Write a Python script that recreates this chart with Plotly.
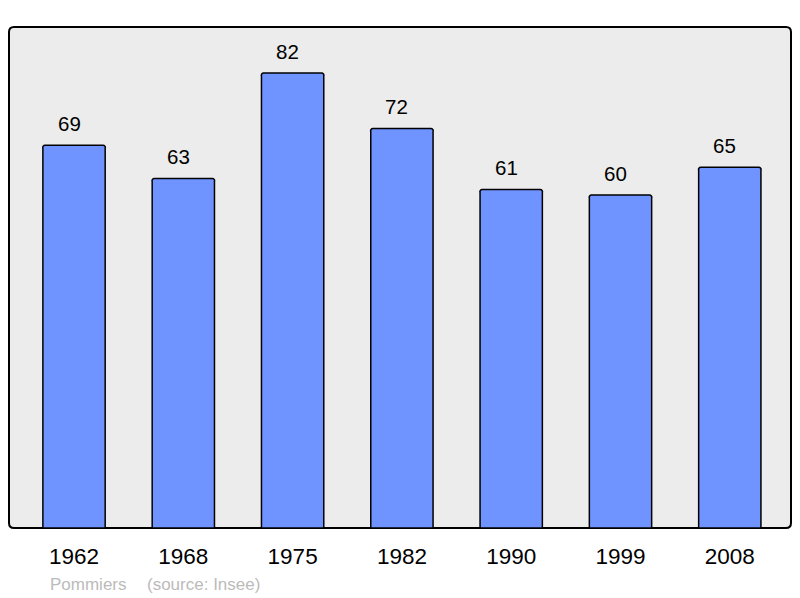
import plotly.graph_objects as go

years = ["1962", "1968", "1975", "1982", "1990", "1999", "2008"]
population = [69, 63, 82, 72, 61, 60, 65]
commune = "Pommiers"
source_note = "(source: Insee)"

W, H = 800, 598
L, R, T, B = 9, 9, 27, 70
pw, ph = W - L - R, H - T - B

xs = list(range(len(years)))

fig = go.Figure()
fig.add_trace(go.Bar(
    x=xs, y=population, width=0.57,
    marker=dict(color="#7094ff", line=dict(color="#000000", width=1.5), cornerradius=3),
    hoverinfo="skip",
))

for xi, v in zip(xs, population):
    fig.add_annotation(x=xi, y=v, text=str(v), showarrow=False, yanchor="middle",
                       yshift=22, xshift=-5,
                       font=dict(family="Liberation Sans, Arial", size=20.5, color="#000"))

rx, ry = 5 / pw, 5 / ph
path = (f"M {rx},0 L {1-rx},0 Q 1,0 1,{ry} L 1,{1-ry} Q 1,1 {1-rx},1 "
        f"L {rx},1 Q 0,1 0,{1-ry} L 0,{ry} Q 0,0 {rx},0 Z")
fig.add_shape(type="path", path=path, xref="paper", yref="paper",
              fillcolor="#ececec", line=dict(color="#000000", width=2), layer="below")

fy = (T + ph - 584.5) / ph
fig.add_annotation(x=(48 - L) / pw, y=fy, xref="paper", yref="paper",
                   text=commune, showarrow=False, xanchor="left", yanchor="middle",
                   font=dict(family="Liberation Sans, Arial", size=17, color="#bbbbbb"))
fig.add_annotation(x=(145 - L) / pw, y=fy, xref="paper", yref="paper",
                   text=source_note, showarrow=False, xanchor="left", yanchor="middle",
                   font=dict(family="Liberation Sans, Arial", size=17, color="#bbbbbb"))

fig.update_layout(
    width=W, height=H,
    margin=dict(l=L, r=R, t=T, b=B, pad=0),
    paper_bgcolor="#ffffff", plot_bgcolor="rgba(0,0,0,0)",
    showlegend=False,
    xaxis=dict(range=[-0.595, 6.56], tickmode="array", tickvals=xs, ticktext=years,
               showgrid=False, zeroline=False, showline=False,
               ticks="outside", ticklen=8, tickcolor="rgba(0,0,0,0)",
               tickfont=dict(family="Liberation Sans, Arial", size=22.5, color="#000")),
    yaxis=dict(range=[0, 90.3], showgrid=False, zeroline=False, showline=False,
               showticklabels=False, ticks=""),
    bargap=0,
)

fig.write_html("out.html", config={"displayModeBar": False, "staticPlot": True})
with open("out.html", encoding="utf-8") as f:
    html = f.read()
html = html.replace("<body>", '<body style="margin:0;padding:0;overflow:hidden">', 1)
with open("out.html", "w", encoding="utf-8") as f:
    f.write(html)
